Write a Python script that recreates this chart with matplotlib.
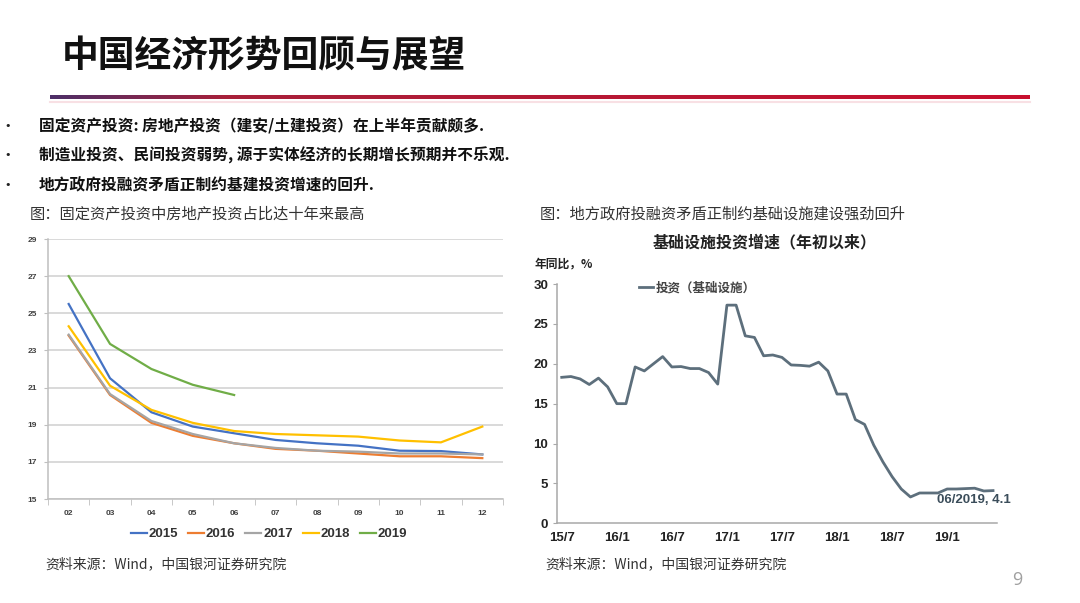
import matplotlib
matplotlib.use("Agg")
import matplotlib.pyplot as plt
import numpy as np
from matplotlib.colors import LinearSegmentedColormap

plt.rcParams['font.family'] = ['Noto Sans CJK SC', 'DejaVu Sans']

W, H = 1080, 603

# left chart: share of real estate in fixed asset investment (%)
months_left = ['02', '03', '04', '05', '06', '07', '08', '09', '10', '11', '12']
y2015 = [25.5, 21.5, 19.67, 18.9, 18.54, 18.18, 18.0, 17.87, 17.6, 17.58, 17.4]
y2016 = [23.8, 20.6, 19.1, 18.4, 18.0, 17.7, 17.6, 17.45, 17.3, 17.3, 17.2]
y2017 = [23.85, 20.65, 19.2, 18.5, 18.0, 17.75, 17.6, 17.55, 17.45, 17.45, 17.4]
y2018 = [24.3, 21.1, 19.8, 19.1, 18.66, 18.5, 18.43, 18.36, 18.15, 18.05, 18.9]
y2019 = [27.0, 23.35, 22.0, 21.15, 20.6]
years = ['2015', '2016', '2017', '2018', '2019']
year_colors = ['#4472C4', '#ED7D31', '#A5A5A5', '#FFC000', '#70AD47']

# right chart: infrastructure investment growth, ytd (%), monthly from 2015/07
infra = [18.3, 18.4, 18.1, 17.4, 18.2, 17.1, 15.0, 15.0, 19.6, 19.1, 20.0, 20.9,
         19.6, 19.65, 19.4, 19.4, 18.9, 17.45, 27.35, 27.35, 23.5, 23.3, 21.0, 21.1,
         20.8, 19.85, 19.8, 19.7, 20.2, 19.1, 16.2, 16.2, 13.0, 12.4, 9.8, 7.7,
         5.85, 4.3, 3.3, 3.8, 3.8, 3.8, 4.3, 4.3, 4.35, 4.4, 4.05, 4.1]
infra_ticks = ['15/7', '16/1', '16/7', '17/1', '17/7', '18/1', '18/7', '19/1']

bullets = ['固定资产投资: 房地产投资（建安/土建投资）在上半年贡献颇多.',
           '制造业投资、民间投资弱势, 源于实体经济的长期增长预期并不乐观.',
           '地方政府投融资矛盾正制约基建投资增速的回升.']


def box(l, t, r, b):
    return [l / W, 1 - b / H, (r - l) / W, (b - t) / H]


fig = plt.figure(figsize=(W / 100, H / 100), dpi=100)

# background layer in pixel coords
bg = fig.add_axes([0, 0, 1, 1])
bg.axis('off')

bg.text(62, 57, '中国经济形势回顾与展望', fontsize=26.5, fontweight='heavy',
        va='center', ha='left', color='#111111')

cmap = LinearSegmentedColormap.from_list('bar', [(0, '#4e2f68'), (0.18, '#a8203a'), (1, '#c8102e')])
grad = np.linspace(0, 1, 256).reshape(1, -1)
bg.imshow(grad, cmap=cmap, aspect='auto', extent=[50, 1030, 99.5, 96.0], zorder=2)
bg.plot([50, 1030], [101.5, 101.5], color='#f8e0e4', lw=1.5, zorder=1)
bg.set_xlim(0, W)
bg.set_ylim(H, 0)

for yy, txt in zip([126, 155, 185], bullets):
    bg.text(4, yy, '•', fontsize=8, va='center', ha='left', color='#222222', family='DejaVu Sans')
    bg.text(39, yy, txt, fontsize=11.3, fontweight='bold', va='center', ha='left', color='#111111')

bg.text(30, 214, '图：固定资产投资中房地产投资占比达十年来最高', fontsize=11,
        va='center', ha='left', color='#333333')
bg.text(540, 214, '图：地方政府投融资矛盾正制约基础设施建设强劲回升', fontsize=11,
        va='center', ha='left', color='#333333')
bg.text(45, 564, '资料来源：Wind，中国银河证券研究院', fontsize=10,
        va='center', ha='left', color='#333333')
bg.text(545, 564, '资料来源：Wind，中国银河证券研究院', fontsize=10,
        va='center', ha='left', color='#333333')
bg.text(1017, 580, '9', fontsize=13, va='center', ha='center', color='#a0a0a0',
        family='Open Sans')

# ---- left chart
ax1 = fig.add_axes(box(48, 239, 503, 499))
x = np.arange(len(months_left))
for name, vals, c in zip(years, [y2015, y2016, y2017, y2018, y2019], year_colors):
    ax1.plot(x[:len(vals)], vals, color=c, lw=1.6, label=name)
ax1.set_xlim(-0.5, len(months_left) - 0.5)
ax1.set_ylim(15, 29)
ax1.set_yticks(np.arange(15, 30, 2))
ax1.set_xticks(x)
ax1.set_xticklabels(months_left)
ax1.set_xticks(np.arange(-0.5, len(months_left), 1), minor=True)
ax1.grid(axis='y', color='#d0d0d0', lw=1.1)
ax1.set_axisbelow(True)
for s in ['top', 'right']:
    ax1.spines[s].set_visible(False)
for s in ['left', 'bottom']:
    ax1.spines[s].set_color('#bfbfbf')
    ax1.spines[s].set_linewidth(1.1)
ax1.tick_params(axis='x', which='major', length=0, pad=8)
ax1.tick_params(axis='x', which='minor', length=4, color='#bfbfbf')
ax1.tick_params(axis='y', length=3, color='#bfbfbf', pad=5)
for lab in ax1.get_xticklabels() + ax1.get_yticklabels():
    lab.set_fontsize(6)
    lab.set_fontweight('bold')
    lab.set_color('#404040')
    lab.set_family('Liberation Sans')
leg = ax1.legend(loc='center', bbox_to_anchor=(269 / W, 1 - 534 / H), bbox_transform=fig.transFigure,
                 ncol=5, frameon=False, handlelength=1.2, handletextpad=0.15, columnspacing=0.75,
                 prop={'family': 'Liberation Sans', 'weight': 'bold', 'size': 9.5})
for t in leg.get_texts():
    t.set_color('#333333')

# ---- right chart
ax2 = fig.add_axes(box(556.7, 284, 996.7, 523.3))
m = np.arange(len(infra))
ax2.plot(m, infra, color='#5d6f7c', lw=2.0, label='投资（基础设施）')
ax2.set_xlim(-0.55, len(infra) - 0.6)
ax2.set_ylim(0, 30)
ax2.set_yticks(np.arange(0, 31, 5))
ax2.set_xticks(m[::6][:len(infra_ticks)])
ax2.set_xticklabels(infra_ticks)
for s in ['top', 'right']:
    ax2.spines[s].set_visible(False)
for s in ['left', 'bottom']:
    ax2.spines[s].set_color('#a8a8a8')
    ax2.spines[s].set_linewidth(1.1)
ax2.tick_params(axis='x', length=0, pad=6)
ax2.tick_params(axis='y', length=3, color='#a8a8a8', pad=3)
for lab in ax2.get_xticklabels() + ax2.get_yticklabels():
    lab.set_fontsize(9.5)
    lab.set_fontweight('bold')
    lab.set_color('#222222')
    lab.set_family('Liberation Sans')
ax2.annotate('06/2019, 4.1', xy=(m[-1], infra[-1]), xytext=(18, -9), textcoords='offset pixels',
             ha='right', va='center', fontsize=9.5, fontweight='bold', color='#3b4d5a',
             family='Liberation Sans', annotation_clip=False)
leg2 = ax2.legend(loc='center left', bbox_to_anchor=(628 / W, 1 - 288 / H), bbox_transform=fig.transFigure,
                  frameon=False, handlelength=1.1, handletextpad=0.2,
                  prop={'size': 9, 'weight': 'bold'})
for t in leg2.get_texts():
    t.set_color('#444444')

bg.text(765, 242, '基础设施投资增速（年初以来）', fontsize=11.5, fontweight='bold',
        va='center', ha='center', color='#222222')
bg.text(535, 264, '年同比，%', fontsize=8.5, fontweight='bold',
        va='center', ha='left', color='#222222')

fig.savefig('out.png', dpi=100)
